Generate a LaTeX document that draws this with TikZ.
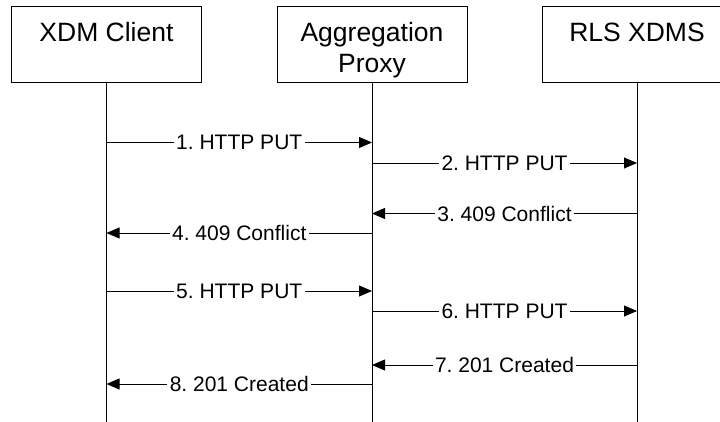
\documentclass[tikz,border=0pt]{standalone}
\usepackage{fontspec}
\setmainfont{Liberation Sans}
\usetikzlibrary{arrows.meta}
\frenchspacing
\begin{document}
\begin{tikzpicture}[x=1pt,y=-1pt,
  entity/.style={draw=black,line width=0.8pt,minimum width=190pt,minimum height=76pt,inner sep=0pt,anchor=north},
  ename/.style={anchor=base,align=center,inner sep=0pt,font=\fontsize{26.5}{31}\selectfont},
  life/.style={draw=black,line width=0.8pt},
  msg/.style={draw=black,line width=0.8pt,-{Triangle[length=13pt,width=11pt]}},
  lbl/.style={fill=white,inner sep=2.5pt,font=\fontsize{21}{25}\selectfont\frenchspacing}]
\useasboundingbox (0,0) rectangle (720,422);
% entities
\node[entity] (c) at (106.5,5.7) {};
\node[entity] (p) at (372,5.7) {};
\node[entity] (r) at (637,5.7) {};
\node[ename] (ct) at (106.5,42) {XDM Client};
\node[ename] (pt) at (372,73) {Aggregation\\Proxy};
\node[ename] (rt) at (637,42) {RLS XDMS};
% lifeline ends
\coordinate (ce) at (106.5,422);
\coordinate (pe) at (372,422);
\coordinate (re) at (637,422);
\draw[life] (c.south) -- (ce);
\draw[life] (p.south) -- (pe);
\draw[life] (r.south) -- (re);
% message points
\coordinate (c1) at (106.5,142.5); \coordinate (p1) at (372,142.5);
\coordinate (p2) at (372,163);   \coordinate (r2) at (637,163);
\coordinate (r3) at (637,213.5); \coordinate (p3) at (372,213.5);
\coordinate (p4) at (372,233);   \coordinate (c4) at (106.5,233);
\coordinate (c5) at (106.5,291); \coordinate (p5) at (372,291);
\coordinate (p6) at (372,311);   \coordinate (r6) at (637,311);
\coordinate (r7) at (637,365);   \coordinate (p7) at (372,365);
\coordinate (p8) at (372,384);   \coordinate (c8) at (106.5,384);
\draw[msg] (c1) -- node[lbl] (l1) {1. HTTP PUT} (p1);
\draw[msg] (p2) -- node[lbl] (l2) {2. HTTP PUT} (r2);
\draw[msg] (r3) -- node[lbl] (l3) {3. 409 Conflict} (p3);
\draw[msg] (p4) -- node[lbl] (l4) {4. 409 Conflict} (c4);
\draw[msg] (c5) -- node[lbl] (l5) {5. HTTP PUT} (p5);
\draw[msg] (p6) -- node[lbl] (l6) {6. HTTP PUT} (r6);
\draw[msg] (r7) -- node[lbl] (l7) {7. 201 Created} (p7);
\draw[msg] (p8) -- node[lbl] (l8) {8. 201 Created} (c8);
\end{tikzpicture}
\end{document}
